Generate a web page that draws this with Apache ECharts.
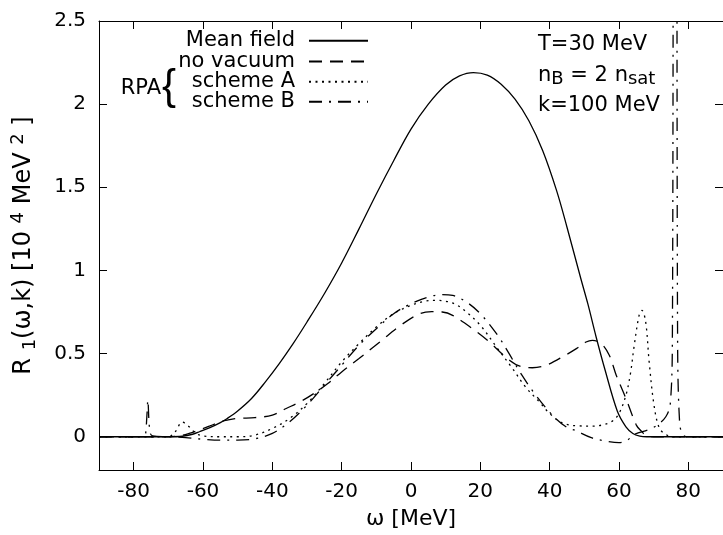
<!DOCTYPE html>
<html><head><meta charset="utf-8">
<script src="https://cdn.jsdelivr.net/npm/echarts@6/dist/echarts.min.js"></script>
<style>html,body{margin:0;padding:0;background:#fff}#c{width:723px;height:535px}</style>
</head><body><div id="c"></div>
<script>
// ---- data ----
const xTicks = [-80, -60, -40, -20, 0, 20, 40, 60, 80];
const yTicks = [0, 0.5, 1, 1.5, 2, 2.5];
const seriesNames = ['Mean field', 'no vacuum', 'scheme A', 'scheme B'];

const wMean = [-90, -70, -66, -63, -61, -58, -55, -53, -50, -46, -42, -38, -34, -30, -25, -20, -15, -10, -5, 0, 5, 10, 14, 18, 22, 26, 30, 34, 38, 42, 45, 49, 51, 53.4, 56, 59.5, 62, 64, 66, 68, 90];
const rMean = [0, 0, 0.003, 0.015, 0.03, 0.055, 0.085, 0.11, 0.155, 0.23, 0.33, 0.44, 0.56, 0.69, 0.86, 1.045, 1.25, 1.46, 1.66, 1.85, 2.0, 2.115, 2.17, 2.19, 2.175, 2.12, 2.03, 1.9, 1.72, 1.48, 1.26, 0.95, 0.8, 0.6, 0.4, 0.155, 0.06, 0.02, 0.004, 0, 0];

const wNoVac = [-90, -70, -67, -64, -61.7, -58, -55, -53, -50, -45, -40, -36, -32, -28, -24, -20, -15, -9, -3, 2.5, 6, 9, 12, 17.7, 22.6, 28.4, 32, 35, 39, 44.5, 47.7, 50.5, 52.3, 54.9, 57.2, 59.2, 62, 65, 66.4, 68, 70, 90];
const rNoVac = [0, 0, 0.005, 0.02, 0.036, 0.065, 0.09, 0.10, 0.11, 0.115, 0.13, 0.17, 0.21, 0.26, 0.32, 0.39, 0.47, 0.57, 0.67, 0.74, 0.752, 0.75, 0.73, 0.65, 0.57, 0.46, 0.42, 0.415, 0.43, 0.49, 0.53, 0.57, 0.58, 0.56, 0.49, 0.37, 0.23, 0.07, 0.035, 0.005, 0, 0];

const wSchemeA = [-90, -70, -68, -66, -64, -62, -60, -55, -50, -45, -40, -35, -30, -25, -20, -15, -10, -5, 0, 4, 7, 10, 13, 16, 20, 25, 29.3, 33, 37, 40, 43.7, 48.5, 52.4, 55, 58.1, 60, 62, 63.3, 64.4, 65.8, 66.6, 67.7, 68.7, 70.1, 71.6, 73.5, 76, 90];
const rSchemeA = [0, 0, 0.03, 0.088, 0.06, 0.02, 0.005, 0, 0, 0.01, 0.05, 0.11, 0.2, 0.32, 0.45, 0.56, 0.66, 0.74, 0.79, 0.815, 0.82, 0.815, 0.795, 0.75, 0.67, 0.53, 0.41, 0.3, 0.21, 0.14, 0.083, 0.065, 0.064, 0.07, 0.094, 0.14, 0.25, 0.38, 0.55, 0.73, 0.76, 0.69, 0.45, 0.19, 0.054, 0.014, 0, 0];

const wSchemeB = [-90, -77, -76.6, -76.2, -75.9, -75.6, -75.2, -74.5, -70, -65, -60, -55, -50, -45, -40, -35, -30, -25, -20, -15, -10, -5, 0, 5, 9, 12, 16, 20, 25, 28, 32, 36, 40.8, 44.7, 47.6, 52, 56, 60, 62.3, 64.4, 68.7, 71, 73.5, 74.8, 75.4, 75.9, 76.5, 76.9, 77.5, 78.5, 80, 90];
const rSchemeB = [0, 0, 0.01, 0.12, 0.22, 0.1, 0.02, 0.005, 0, -0.005, -0.015, -0.02, -0.02, -0.012, 0.02, 0.09, 0.19, 0.31, 0.43, 0.55, 0.65, 0.74, 0.8, 0.84, 0.855, 0.85, 0.81, 0.74, 0.61, 0.51, 0.37, 0.25, 0.13, 0.06, 0.036, -0.006, -0.025, -0.035, -0.022, 0.014, 0.044, 0.07, 0.12, 0.2, 0.6, 5, 5, 0.6, 0.08, 0.01, 0, 0];

// ---- chart ----
const FONT = 'DejaVu Sans';
const BLACK = '#000';
function pairs(w, r) { return w.map((x, i) => [x, r[i]]); }

const chart = echarts.init(document.getElementById('c'), null, { renderer: 'canvas' });

const lineAxis = { show: true, onZero: false, lineStyle: { color: BLACK, width: 1 } };
function tick(vals) { return { show: true, inside: true, length: 8, lineStyle: { color: BLACK, width: 1 }, customValues: vals }; }

const dashTypes = ['solid', [13, 8], [2, 4.5], [13, 7, 2, 7]];
const dataSets = [pairs(wMean, rMean), pairs(wNoVac, rNoVac), pairs(wSchemeA, rSchemeA), pairs(wSchemeB, rSchemeB)];
const legendCenters = [40.7, 61.5, 81.7, 101.7];

const option = {
  animation: false,
  backgroundColor: '#fff',
  color: [BLACK],
  grid: { left: 99, right: -1, top: 21, bottom: 63, containLabel: false },
  xAxis: [
    {
      type: 'value', min: -90, max: 90, position: 'bottom',
      axisLine: lineAxis, axisTick: tick(xTicks), splitLine: { show: false },
      axisLabel: { customValues: xTicks, color: BLACK, fontFamily: FONT, fontSize: 20, margin: 12 },
      name: 'ω [MeV]', nameLocation: 'middle', nameGap: 38,
      nameTextStyle: { color: BLACK, fontFamily: FONT, fontSize: 22 }
    },
    {
      type: 'value', min: -90, max: 90, position: 'top',
      axisLine: lineAxis, axisTick: tick(xTicks), splitLine: { show: false },
      axisLabel: { show: false }
    }
  ],
  yAxis: [
    {
      type: 'value', min: -0.2, max: 2.5, position: 'left',
      axisLine: lineAxis, axisTick: tick(yTicks), splitLine: { show: false },
      axisLabel: { customValues: yTicks, color: BLACK, fontFamily: FONT, fontSize: 20, margin: 13 },
      name: 'R {sub|1}(ω,k) [10 {sup|4} MeV {sup|2} ]', nameLocation: 'middle', nameGap: 60,
      nameTextStyle: {
        color: BLACK, fontFamily: FONT, fontSize: 24, lineHeight: 30,
        rich: {
          sub: { fontFamily: FONT, fontSize: 18, lineHeight: 15, verticalAlign: 'bottom', color: BLACK },
          sup: { fontFamily: FONT, fontSize: 18, lineHeight: 15, verticalAlign: 'top', color: BLACK }
        }
      }
    },
    {
      type: 'value', min: -0.2, max: 2.5, position: 'right',
      axisLine: lineAxis, axisTick: tick(yTicks), splitLine: { show: false },
      axisLabel: { show: false }
    }
  ],
  legend: seriesNames.map((n, i) => ({
    data: [n], orient: 'horizontal', right: 354, top: legendCenters[i] - 11, padding: 0,
    align: 'right', itemWidth: 59, itemHeight: 14, selectedMode: false,
    itemStyle: { opacity: 0 },
    textStyle: { color: BLACK, fontFamily: FONT, fontSize: 21, lineHeight: 22, padding: [0, 9, 0, 0] }
  })),
  graphic: [
    { type: 'text', x: 161, y: 89, style: { text: 'RPA', fill: BLACK, font: '21px "DejaVu Sans"', align: 'right', verticalAlign: 'middle' } },
    { type: 'text', x: 169, y: 87, style: { text: '{', fill: BLACK, font: '42px "Liberation Sans"', align: 'center', verticalAlign: 'middle' } },
    { type: 'text', x: 538, y: 44.7, style: { text: 'T=30 MeV', fill: BLACK, font: '21px "DejaVu Sans"', align: 'left', verticalAlign: 'middle' } },
    {
      type: 'text', x: 538, y: 75.5, style: {
        text: 'n{sub|B} = 2 n{sub|sat}', fill: BLACK, fontFamily: FONT, fontSize: 21, lineHeight: 26,
        align: 'left', verticalAlign: 'middle',
        rich: { sub: { fontFamily: FONT, fontSize: 18, lineHeight: 16, verticalAlign: 'bottom', fill: BLACK } }
      }
    },
    { type: 'text', x: 538, y: 105.3, style: { text: 'k=100 MeV', fill: BLACK, font: '21px "DejaVu Sans"', align: 'left', verticalAlign: 'middle' } }
  ],
  series: seriesNames.map((n, i) => ({
    name: n, type: 'line', data: dataSets[i], symbol: 'none', showSymbol: false,
    smooth: 0.35, clip: true,
    lineStyle: { color: BLACK, width: 1.3, type: dashTypes[i] },
    itemStyle: { color: BLACK },
    xAxisIndex: 0, yAxisIndex: 0, z: 4 - i
  }))
};
chart.setOption(option);
</script></body></html>
